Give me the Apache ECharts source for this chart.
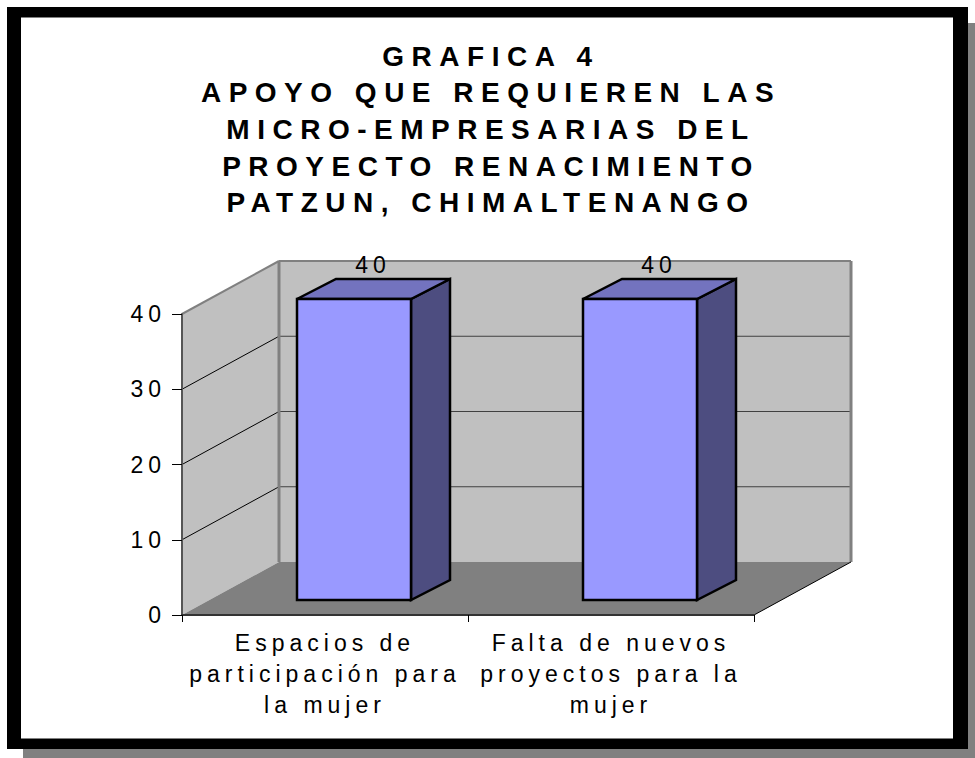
<!DOCTYPE html>
<html>
<head>
<meta charset="utf-8">
<style>
html, body { margin: 0; padding: 0; background: #fff; }
#chart { width: 975px; height: 758px; }
#chart text { letter-spacing: 5px; }
#chart text[style*="bold"] { letter-spacing: 7.5px; }
</style>
<script src="https://cdn.jsdelivr.net/npm/echarts@6/dist/echarts.min.js"></script>
</head>
<body>
<div id="chart"></div>
<script>
var titleLines = ['GRAFICA 4', 'APOYO QUE REQUIEREN LAS', 'MICRO-EMPRESARIAS DEL', 'PROYECTO RENACIMIENTO', 'PATZUN, CHIMALTENANGO'];
var categories = ['Espacios de\nparticipación para\nla mujer', 'Falta de nuevos\nproyectos para la\nmujer'];
var values = [40, 40];
var yMax = 40;
var yStep = 10;

// pseudo 3d depth of the chart box and of the bars, in px
var depthX = 97, depthY = -53;
var barDepthX = 39, barDepthY = -20;
var barOffset = 15, barShift = 29, barWidth = 114;

function poly(points, fill, stroke, lineWidth) {
    return {
        type: 'polygon',
        shape: {points: points},
        style: {fill: fill, stroke: stroke || null, lineWidth: lineWidth || 0, lineJoin: 'miter'}
    };
}

function line(a, b, color, width) {
    return {
        type: 'line',
        shape: {x1: a[0], y1: a[1], x2: b[0], y2: b[1]},
        style: {stroke: color, lineWidth: width}
    };
}

function renderBox(params, api) {
    var band = api.size([1, 0])[0];
    var o = api.coord([0, 0]);
    o = [o[0] - band / 2, o[1]];
    var t = [o[0], api.coord([0, yMax])[1]];
    var right = o[0] + band * categories.length;
    var children = [
        // back wall
        poly([[o[0] + depthX, t[1] + depthY], [right + depthX, t[1] + depthY], [right + depthX, o[1] + depthY], [o[0] + depthX, o[1] + depthY]], '#c0c0c0'),
        // side wall
        poly([[o[0], t[1]], [o[0] + depthX, t[1] + depthY], [o[0] + depthX, o[1] + depthY], [o[0], o[1]]], '#c0c0c0'),
        // floor
        poly([[o[0], o[1]], [o[0] + depthX, o[1] + depthY], [right + depthX, o[1] + depthY], [right, o[1]]], '#808080')
    ];
    for (var v = yStep; v < yMax; v += yStep) {
        var y = api.coord([0, v])[1];
        children.push(line([o[0], y], [o[0] + depthX, y + depthY], '#000', 1));
        children.push(line([o[0] + depthX, y + depthY], [right + depthX, y + depthY], '#404040', 1));
    }
    children.push(line([o[0], t[1]], [o[0] + depthX, t[1] + depthY], '#808080', 2));
    children.push(line([o[0] + depthX, t[1] + depthY], [right + depthX, t[1] + depthY], '#808080', 2));
    children.push(line([o[0] + depthX, t[1] + depthY], [o[0] + depthX, o[1] + depthY], '#808080', 3));
    children.push(line([right + depthX, t[1] + depthY], [right + depthX, o[1] + depthY], '#808080', 3));
    children.push(line([right, o[1]], [right + depthX, o[1] + depthY], '#000', 1));
    return {type: 'group', children: children};
}

function renderBar(params, api) {
    var top = api.coord([api.value(0), api.value(1)]);
    var bottom = api.coord([api.value(0), 0]);
    var left = top[0] + barShift - barWidth / 2;
    var right = left + barWidth;
    var y0 = top[1] - barOffset;
    var y1 = bottom[1] - barOffset;
    return {
        type: 'group',
        children: [
            poly([[right, y0], [right + barDepthX, y0 + barDepthY], [right + barDepthX, y1 + barDepthY], [right, y1]], '#4d4d80', '#000', 2.5),
            poly([[left, y0], [left + barDepthX, y0 + barDepthY], [right + barDepthX, y0 + barDepthY], [right, y0]], '#7373bf', '#000', 2.5),
            poly([[left, y0], [right, y0], [right, y1], [left, y1]], '#9999ff', '#000', 2.5),
            {
                type: 'text',
                style: {
                    text: String(api.value(1)),
                    x: left + barWidth / 2 + 19, y: y0 + barDepthY - 3,
                    align: 'center', verticalAlign: 'bottom',
                    font: '23px "Liberation Sans", Arial, sans-serif',
                    fill: '#000'
                }
            }
        ]
    };
}

var myChart = echarts.init(document.getElementById('chart'), null, {renderer: 'svg'});

var option = {
    animation: false,
    backgroundColor: '#fff',
    title: {
        text: titleLines.join('\n'),
        left: 486, top: 33,
        textAlign: 'center',
        textStyle: {
            fontFamily: '"Liberation Sans", Arial, sans-serif',
            fontWeight: 'bold',
            fontSize: 28,
            lineHeight: 36.6,
            color: '#000'
        }
    },
    graphic: [
        {type: 'rect', z: -10, silent: true, shape: {x: 23, y: 23, width: 952, height: 735}, style: {fill: '#808080'}},
        {type: 'rect', z: -9, silent: true, shape: {x: 7, y: 7, width: 961, height: 742}, style: {fill: '#000'}},
        {type: 'rect', z: -8, silent: true, shape: {x: 21, y: 17, width: 932, height: 722}, style: {fill: '#808080'}},
        {type: 'rect', z: -7, silent: true, shape: {x: 21, y: 18, width: 932, height: 720}, style: {fill: '#fff'}}
    ],
    grid: {left: 182, top: 314, width: 572, height: 301},
    xAxis: {
        type: 'category',
        data: categories,
        axisLine: {lineStyle: {color: '#333', width: 2}},
        axisTick: {show: true, alignWithLabel: false, length: 7, lineStyle: {color: '#000'}},
        axisLabel: {
            margin: 12, fontSize: 23, lineHeight: 31, color: '#000',
            fontFamily: '"Liberation Sans", Arial, sans-serif', interval: 0
        },
        z: 5
    },
    yAxis: {
        type: 'value',
        min: 0, max: yMax, interval: yStep,
        splitLine: {show: false},
        axisLine: {show: true, lineStyle: {color: '#555', width: 2}},
        axisTick: {show: true, length: 10, lineStyle: {color: '#000'}},
        axisLabel: {
            margin: 16, fontSize: 23, color: '#000',
            fontFamily: '"Liberation Sans", Arial, sans-serif'
        },
        z: 5
    },
    series: [
        {type: 'custom', name: 'caja', silent: true, z: 1, renderItem: renderBox, data: [[0, 0]], clip: false},
        {type: 'custom', name: 'Apoyo', silent: true, z: 2, renderItem: renderBar, clip: false,
            data: values.map(function (v, i) { return [i, v]; })}
    ]
};

myChart.setOption(option);
</script>
</body>
</html>
